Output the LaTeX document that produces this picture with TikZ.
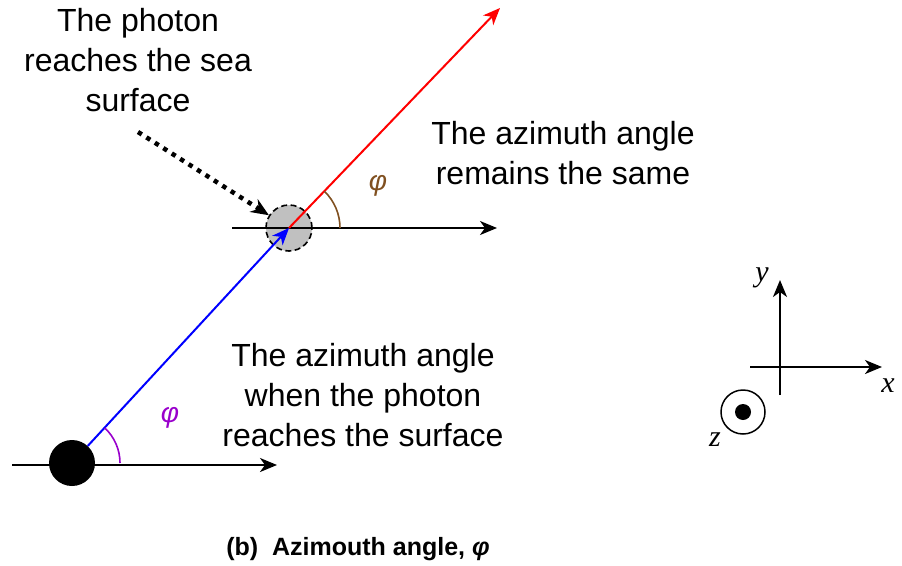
\documentclass[tikz,border=0pt]{standalone}
\usepackage{fontspec}
\setmainfont{Liberation Sans}
\newfontfamily\tms{Liberation Serif}
\usetikzlibrary{arrows.meta}
\definecolor{phipurple}{RGB}{153,0,204}
\definecolor{phibrown}{RGB}{128,80,32}
\definecolor{surfgray}{RGB}{192,192,192}
\begin{document}
\begin{tikzpicture}[x=1pt,y=-1pt,
 lbl/.style={align=center,font=\fontsize{32}{40}\selectfont},
 arr/.style={line width=2pt,-{Stealth[length=17pt,width=14pt,inset=5pt]}},
 philbl/.style={font=\fontsize{28}{28}\selectfont\itshape},
 axlbl/.style={font=\tms\itshape\fontsize{30}{30}\selectfont},
 arcline/.style={line width=1.6pt},
]
\useasboundingbox (0,0) rectangle (902,565);
% surface point
\node[circle,fill=surfgray,draw,dash pattern=on 6pt off 3.5pt,line width=1.6pt,minimum size=46pt,inner sep=0] (surf) at (289,228) {};
\coordinate (b1) at (12,465); \coordinate (b2) at (277,465);
\coordinate (s1) at (232,228); \coordinate (s2) at (497,228);
\coordinate (tip) at (500,8);
\coordinate (dstart) at (138,132);
\draw[arr] (b1) -- (b2);
\node[circle,fill=black,minimum size=46pt,inner sep=0] (src) at (72,463) {};
\draw[arr] (s1) -- (s2);
\draw[arr,blue] (src) -- (surf.center);
\draw[arr,red] (surf.center) -- (tip);
\draw[line width=4.5pt,dash pattern=on 4.5pt off 5.5pt,-{Stealth[length=18pt,width=15pt,inset=6pt]}] (dstart) -- (surf);
% angles
\draw[arcline,phipurple] (src.center) ++(48,0) arc[start angle=0,end angle=-47,radius=48];
\draw[arcline,phibrown] (surf.center) ++(51,0) arc[start angle=0,end angle=-46,radius=51];
\node[philbl,phipurple] (phi1) at (170,418) {φ};
\node[philbl,phibrown] (phi2) at (378,186) {φ};
% texts
\node[lbl] (t1) at (138,60) {The photon\\reaches the sea\\surface};
\node[lbl] (t2) at (563,153) {The azimuth angle\\remains the same};
\node[lbl] (t3) at (363,395) {The azimuth angle\\when the photon\\reaches the surface};
\node[font=\bfseries\fontsize{25}{28}\selectfont] (cap) at (358,549) {(b)\ \ Azimouth angle, \textit{φ}};
% axes
\coordinate (ax0) at (750,367); \coordinate (ax1) at (882,367);
\coordinate (ay0) at (780,395); \coordinate (ay1) at (780,280);
\draw[arr] (ax0) -- (ax1);
\draw[arr] (ay0) -- (ay1);
\node[axlbl] (ylbl) at (762,278) {y};
\node[axlbl] (xlbl) at (888,386) {x};
\node[axlbl] (zlbl) at (715,440) {z};
\node[circle,draw,line width=1.5pt,minimum size=44pt,inner sep=0] (zc) at (743,412) {};
\fill (zc.center) circle (8);
\end{tikzpicture}
\end{document}
